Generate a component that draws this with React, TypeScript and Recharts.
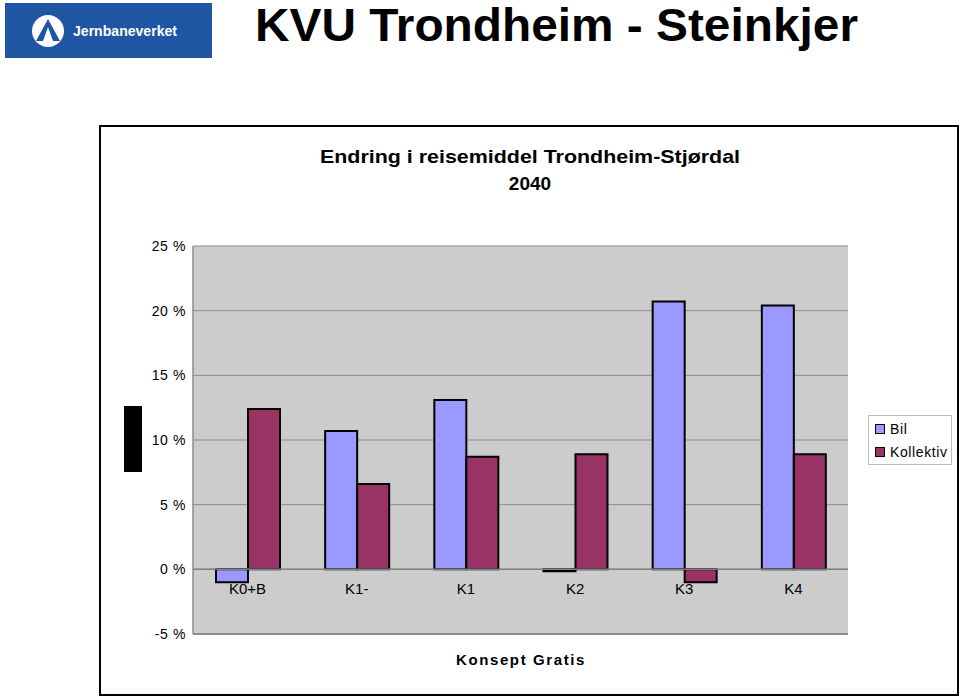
import React from "react";
import {
  BarChart,
  Bar,
  XAxis,
  YAxis,
  CartesianGrid,
  ReferenceLine,
} from "recharts";

// Konsepter og endring i reisemiddel (andel, %)
const concepts = ["K0+B", "K1-", "K1", "K2", "K3", "K4"];
const bilValues = [-1.0, 10.7, 13.1, -0.15, 20.7, 20.4];
const kollektivValues = [12.4, 6.6, 8.7, 8.9, -1.0, 8.9];
const yTicks = [-5, 0, 5, 10, 15, 20, 25];

const data = concepts.map((name, i) => ({
  name,
  Bil: bilValues[i],
  Kollektiv: kollektivValues[i],
}));

const BIL = "#9999ff";
const KOLL = "#993366";
const FONT = "Arial, 'Liberation Sans', sans-serif";

function XTick(props: any) {
  const { x, y, payload } = props;
  // labels sit just under the zero line, inside the plot
  return (
    <text
      x={x}
      y={y - 40}
      textAnchor="middle"
      fontSize={15}
      fontFamily={FONT}
      fill="#000"
    >
      {payload.value}
    </text>
  );
}

function LegendBox() {
  const items = [
    { label: "Bil", color: BIL },
    { label: "Kollektiv", color: KOLL },
  ];
  return (
    <div
      style={{
        border: "1px solid #bbb",
        background: "#fff",
        padding: "1px 2px 1px 6px",
        fontFamily: FONT,
        fontSize: 14,
        letterSpacing: 0.6,
        width: 74,
      }}
    >
      {items.map((it) => (
        <div key={it.label} style={{ display: "flex", alignItems: "center", height: 23 }}>
          <span
            style={{
              display: "inline-block",
              width: 8,
              height: 8,
              background: it.color,
              border: "1.5px solid #000",
              marginRight: 5,
            }}
          />
          {it.label}
        </div>
      ))}
    </div>
  );
}

export default function App() {
  return (
    <div style={{ position: "absolute", left: 0, top: 0, width: 960, height: 696, background: "#fff" }}>
      {/* logo */}
      <div style={{ position: "absolute", left: 5, top: 3, width: 207, height: 55, background: "#1f56a3" }}>
        <svg width={207} height={55}>
          <circle cx={43} cy={28} r={16} fill="#fff" />
          <path d="M43 16 L31 38 L38 38 L43 24 L48 38 L55 38 Z" fill="#1f56a3" />
          <text
            x={68}
            y={33}
            fill="#fff"
            fontSize={15}
            fontWeight="bold"
            fontFamily={FONT}
            textLength={104}
            lengthAdjust="spacingAndGlyphs"
          >
            Jernbaneverket
          </text>
        </svg>
      </div>

      {/* outer frame */}
      <div
        style={{
          position: "absolute",
          left: 99,
          top: 125,
          width: 856,
          height: 567,
          border: "2px solid #000",
        }}
      />

      <BarChart
        width={960}
        height={696}
        data={data}
        margin={{ top: 246, right: 112, bottom: 32, left: 133 }}
        barGap={0}
        barSize={32}
        style={{ position: "absolute", left: 0, top: 0 }}
      >
        <CartesianGrid vertical={false} stroke="#8c8c8c" fill="#cccccc" />
        <XAxis
          dataKey="name"
          tick={<XTick />}
          tickLine={false}
          tickSize={0}
          tickMargin={0}
          height={30}
          interval={0}
          axisLine={{ stroke: "#8c8c8c", strokeWidth: 2 }}
        />
        <YAxis
          width={60}
          domain={[-5, 25]}
          ticks={yTicks}
          interval={0}
          tickFormatter={(v: number) => `${v} %`}
          tick={{ fill: "#000", fontSize: 14, fontFamily: FONT, letterSpacing: 0.6 }}
          tickLine={false}
          tickSize={0}
          tickMargin={7}
          axisLine={{ stroke: "#8c8c8c", strokeWidth: 1.5 }}
        />
        <YAxis
          yAxisId="r"
          orientation="right"
          width={0}
          domain={[-5, 25]}
          tick={false}
          tickLine={false}
          axisLine={{ stroke: "#8c8c8c", strokeWidth: 2 }}
        />
        <ReferenceLine y={0} stroke="#808080" strokeWidth={1.5} />
        <Bar dataKey="Bil" fill={BIL} stroke="#000" strokeWidth={2} isAnimationActive={false} />
        <Bar dataKey="Kollektiv" fill={KOLL} stroke="#000" strokeWidth={2} isAnimationActive={false} />
      </BarChart>

      <div style={{ position: "absolute", left: 868, top: 415 }}>
        <LegendBox />
      </div>

      {/* texts */}
      <svg width={960} height={696} style={{ position: "absolute", left: 0, top: 0, pointerEvents: "none" }}>
        <text
          x={255}
          y={41}
          fontSize={46}
          fontWeight="bold"
          fontFamily="'Liberation Sans Narrow', Arial, 'Liberation Sans', sans-serif"
          textLength={603}
          lengthAdjust="spacingAndGlyphs"
        >
          KVU Trondheim - Steinkjer
        </text>
        <text
          x={320}
          y={163}
          fontSize={19}
          fontWeight="bold"
          fontFamily={FONT}
          textLength={420}
          lengthAdjust="spacingAndGlyphs"
        >
          Endring i reisemiddel Trondheim-Stjørdal
        </text>
        <text x={530} y={190} fontSize={19} fontWeight="bold" fontFamily={FONT} textAnchor="middle">
          2040
        </text>
        <text
          x={521}
          y={665}
          fontSize={15}
          fontWeight="bold"
          fontFamily={FONT}
          textAnchor="middle"
          letterSpacing={1.6}
        >
          Konsept Gratis
        </text>
        <rect x={124} y={406} width={18} height={66} fill="#000" />
      </svg>
    </div>
  );
}
